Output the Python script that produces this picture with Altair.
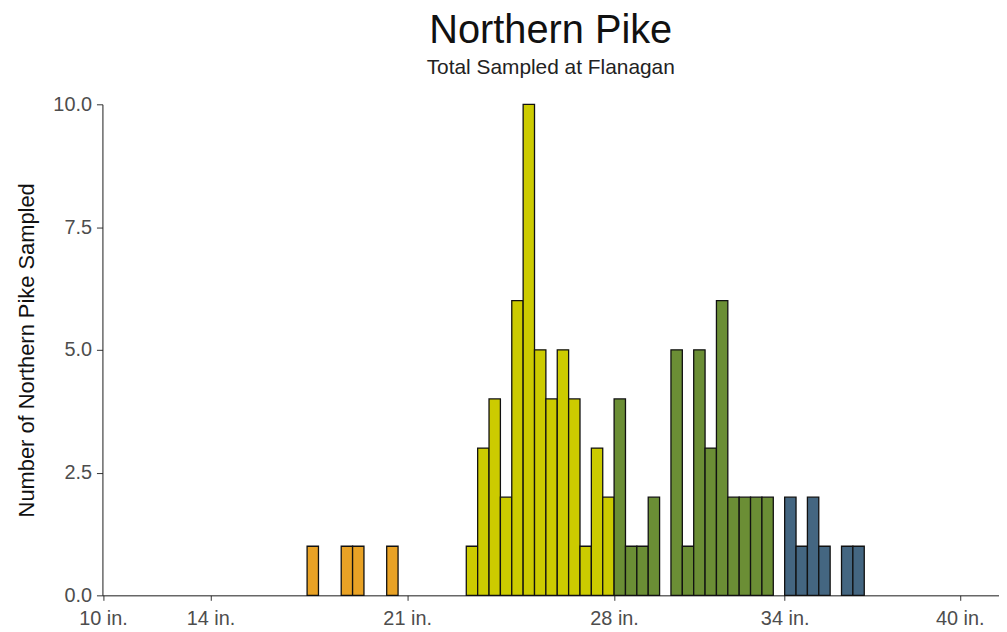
import altair as alt
import pandas as pd

# Length bins (cm, 1 cm wide) and counts
orange_bins = [44, 47, 48, 51]
orange_counts = [1, 1, 1, 1]
yellow_bins = [58, 59, 60, 61, 62, 63, 64, 65, 66, 67, 68, 69, 70]
yellow_counts = [1, 3, 4, 2, 6, 10, 5, 4, 5, 4, 1, 3, 2]
green_bins = [71, 72, 73, 74, 76, 77, 78, 79, 80, 81, 82, 83, 84]
green_counts = [4, 1, 1, 2, 5, 1, 5, 3, 6, 2, 2, 2, 2]
blue_bins = [86, 87, 88, 89, 91, 92]
blue_counts = [2, 1, 2, 1, 1, 1]

group_names = ["under 21", "21-28", "28-34", "over 34"]
group_colors = ["#E9A225", "#CCCB00", "#6B8E35", "#446681"]

# x axis ticks (cm positions) and their labels
tick_cm = [26.05, 35.5, 52.8, 71.0, 86.0, 101.4]
tick_labels = ["10 in.", "14 in.", "21 in.", "28 in.", "34 in.", "40 in."]
y_ticks = [0, 2.5, 5, 7.5, 10]

rows = []
for name, bins, counts in zip(group_names,
                              [orange_bins, yellow_bins, green_bins, blue_bins],
                              [orange_counts, yellow_counts, green_counts, blue_counts]):
    for b, c in zip(bins, counts):
        rows.append({"start": b, "count": c, "group": name})
df = pd.DataFrame(rows)

# label expression from tick lists
expr = ""
for i in range(len(tick_cm) - 1, -1, -1):
    if i == len(tick_cm) - 1:
        expr = f"'{tick_labels[i]}'"
    else:
        thr = (tick_cm[i] + tick_cm[i + 1]) / 2
        expr = f"datum.value < {thr} ? '{tick_labels[i]}' : ({expr})"

FONT = "Liberation Sans"

chart = alt.Chart(df).transform_calculate(
    end="datum.start + 1"
).mark_bar(stroke="#111111", strokeWidth=1.3, opacity=1).encode(
    x=alt.X("start:Q",
            scale=alt.Scale(domain=[26.0, 104.85], nice=False, zero=False, padding=0),
            axis=alt.Axis(values=tick_cm, labelExpr=expr, title=None, grid=False,
                          tickSize=5, labelPadding=8, labelFontSize=20,
                          labelColor="#4d4d4d", labelFont=FONT,
                          domainColor="#1a1a1a", tickColor="#333333",
                          labelFlush=False)),
    x2="end:Q",
    y=alt.Y("count:Q",
            scale=alt.Scale(domain=[0, 10], nice=False, padding=0),
            axis=alt.Axis(values=y_ticks, format=".1f",
                          title="Number of Northern Pike Sampled",
                          titleFontSize=22, titleFont=FONT, titleFontWeight="normal",
                          titleColor="#111111", titlePadding=14,
                          grid=False, tickSize=6, labelPadding=5,
                          labelFontSize=20, labelColor="#4d4d4d", labelFont=FONT,
                          domainColor="#1a1a1a", tickColor="#333333")),
    y2=alt.datum(0),
    color=alt.Color("group:N", scale=alt.Scale(domain=group_names, range=group_colors),
                    legend=None),
).properties(
    width=902,
    height=494,
    title=alt.TitleParams("Northern Pike", subtitle="Total Sampled at Flanagan",
                          fontSize=40, font=FONT, fontWeight="normal", color="#111111",
                          subtitleFontSize=21, subtitleFont=FONT, subtitleColor="#222222",
                          anchor="middle", offset=16, subtitlePadding=7),
    autosize=alt.AutoSizeParams(type="none"),
    padding={"left": 95, "top": 95, "right": 0, "bottom": 36},
).configure_view(stroke=None)

chart.save("out.html", embed_options={"renderer": "svg", "actions": False})
